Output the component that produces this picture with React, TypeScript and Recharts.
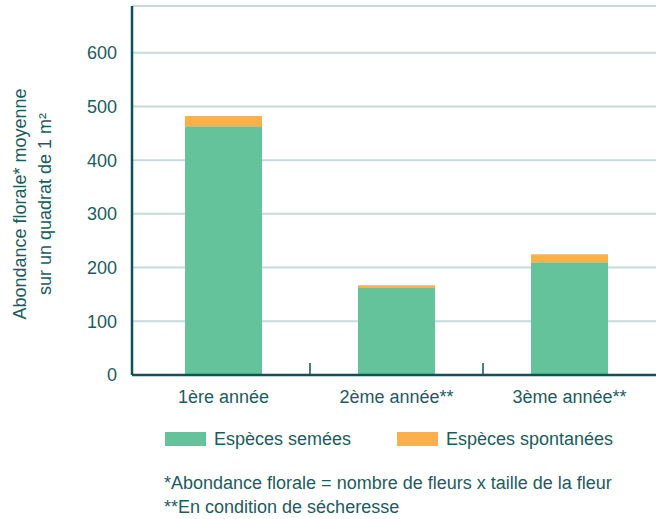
import { Bar, BarChart, CartesianGrid, XAxis, YAxis } from "recharts";

const categories = ["1ère année", "2ème année**", "3ème année**"];
const semees = [463, 162, 210];
const spontanees = [19, 5, 15];
const yTicks = [0, 100, 200, 300, 400, 500, 600];
const legendLabels = ["Espèces semées", "Espèces spontanées"];
const footnotes = [
  "*Abondance florale = nombre de fleurs x taille de la fleur",
  "**En condition de sécheresse",
];
const yTitle = ["Abondance florale* moyenne", "sur un quadrat de 1 m²"];

const GREEN = "#64c39a";
const ORANGE = "#fbb04e";
const TEXT = "#1d5b5e";
const AXIS = "#0e5157";
const GRID = "#c8d9db";
const FONT = '"Liberation Sans", Arial, Helvetica, sans-serif';
const FS = 18;

const data = categories.map((c, i) => ({
  name: c,
  semees: semees[i],
  spontanees: spontanees[i],
}));

const X_MARGIN = 28;

function CategoryTick(props: any) {
  const { x, y, payload, index } = props;
  const half = payload?.offset ?? 86.5;
  const axisY = y - X_MARGIN;
  return (
    <g>
      {index > 0 && (
        <line
          x1={x - half}
          x2={x - half}
          y1={axisY - 12}
          y2={axisY}
          stroke={AXIS}
          strokeWidth={1.5}
        />
      )}
      <text x={x} y={y} textAnchor="middle" fill={TEXT} fontSize={FS} fontFamily={FONT}>
        {payload.value}
      </text>
    </g>
  );
}

function YTitle() {
  const cy = 204;
  return (
    <g>
      {yTitle.map((t, i) => {
        const cx = 26 + i * 25;
        return (
          <text
            key={t}
            x={cx}
            y={cy}
            textAnchor="middle"
            fill={TEXT}
            fontSize={FS}
            fontFamily={FONT}
            transform={`rotate(-90, ${cx}, ${cy})`}
          >
            {t}
          </text>
        );
      })}
    </g>
  );
}

export default function App() {
  return (
    <div
      style={{
        position: "absolute",
        left: 0,
        top: 0,
        width: 657,
        height: 519,
        background: "#fff",
        fontFamily: FONT,
        color: TEXT,
      }}
    >
      <BarChart
        width={657}
        height={519}
        data={data}
        margin={{ top: 6, right: 1, bottom: 104, left: 0 }}
        barSize={77}
      >
        <CartesianGrid stroke={GRID} strokeWidth={2} vertical={false} />
        <XAxis
          dataKey="name"
          height={40}
          padding={{ left: 5, right: 0 }}
          axisLine={{ stroke: AXIS, strokeWidth: 2.5 }}
          tickLine={false}
          tickSize={0}
          tickMargin={X_MARGIN}
          tick={<CategoryTick />}
          interval={0}
        />
        <YAxis
          width={132}
          domain={[0, 687]}
          ticks={yTicks}
          axisLine={{ stroke: AXIS, strokeWidth: 2.5 }}
          tickLine={false}
          tickMargin={9}
          tick={{ fill: TEXT, fontSize: FS, fontFamily: FONT }}
          label={<YTitle />}
        />
        <Bar dataKey="semees" stackId="a" fill={GREEN} isAnimationActive={false} />
        <Bar dataKey="spontanees" stackId="a" fill={ORANGE} isAnimationActive={false} />
      </BarChart>

      <div style={{ position: "absolute", top: 428, left: 165, display: "flex", fontSize: FS }}>
        {legendLabels.map((l, i) => (
          <div
            key={l}
            style={{ display: "flex", alignItems: "center", width: 232, lineHeight: "22px" }}
          >
            <span
              style={{
                display: "inline-block",
                width: 41,
                height: 14,
                background: i === 0 ? GREEN : ORANGE,
                marginRight: 8,
              }}
            />
            <span>{l}</span>
          </div>
        ))}
      </div>

      <div style={{ position: "absolute", top: 471, left: 164, fontSize: FS, lineHeight: "24px" }}>
        {footnotes.map((f) => (
          <div key={f}>{f}</div>
        ))}
      </div>
    </div>
  );
}
